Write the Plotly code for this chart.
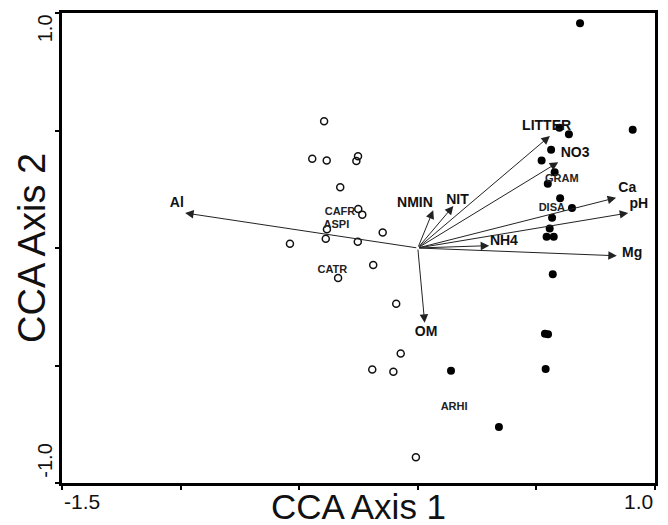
import plotly.graph_objects as go

# ---- data ----
site_open_x = [-0.395, -0.445, -0.384, -0.252, -0.259, -0.327, -0.251, -0.234, -0.383, -0.388,
               -0.539, -0.253, -0.148, -0.188, -0.336, -0.091, -0.072, -0.192, -0.103, -0.008]
site_open_y = [0.539, 0.380, 0.372, 0.390, 0.370, 0.259, 0.166, 0.142, 0.080, 0.039,
               0.018, 0.027, 0.066, -0.072, -0.128, -0.237, -0.449, -0.517, -0.527, -0.890]

site_filled_x = [0.684, 0.597, 0.637, 0.906, 0.562, 0.522, 0.577, 0.548, 0.600, 0.650,
                 0.566, 0.556, 0.543, 0.573, 0.569, 0.536, 0.549, 0.539, 0.140, 0.342]
site_filled_y = [0.956, 0.512, 0.484, 0.503, 0.418, 0.372, 0.322, 0.273, 0.212, 0.170,
                 0.129, 0.083, 0.048, 0.048, -0.112, -0.365, -0.367, -0.515, -0.522, -0.762]

env_names = ["Al", "NMIN", "NIT", "LITTER", "NO3", "Ca", "pH", "NH4", "Mg", "OM"]
env_tip_x = [-0.981, 0.065, 0.150, 0.557, 0.592, 0.836, 0.887, 0.301, 0.839, 0.029]
env_tip_y = [0.149, 0.161, 0.179, 0.477, 0.365, 0.214, 0.149, 0.010, -0.033, -0.318]
env_label_x = [-1.016, -0.012, 0.167, 0.543, 0.663, 0.883, 0.932, 0.363, 0.904, 0.035]
env_label_y = [0.188, 0.188, 0.203, 0.517, 0.404, 0.252, 0.186, 0.027, -0.023, -0.361]

species_names = ["CAFR", "ASPI", "CATR", "GRAM", "DISA", "ARHI"]
species_x = [-0.328, -0.343, -0.360, 0.607, 0.565, 0.153]
species_y = [0.153, 0.097, -0.093, 0.291, 0.170, -0.678]

x_tick_vals = [-1.5, -1.0, -0.5, 0.0, 0.5, 1.0]
y_tick_vals = [-1.0, -0.5, 0.0, 0.5, 1.0]
x_tick_labels = ["-1.5", "1.0"]
y_tick_labels = ["1.0", "-1.0"]
x_title = "CCA Axis 1"
y_title = "CCA Axis 2"

FONT = "Arial, Liberation Sans, Helvetica, sans-serif"

fig = go.Figure()

fig.add_trace(go.Scatter(
    x=site_open_x, y=site_open_y, mode="markers",
    marker=dict(symbol="circle-open", size=7, color="#111", line=dict(width=1.5, color="#111")),
    showlegend=False, hoverinfo="skip"))

fig.add_trace(go.Scatter(
    x=site_filled_x, y=site_filled_y, mode="markers",
    marker=dict(symbol="circle", size=8, color="#000"),
    showlegend=False, hoverinfo="skip"))

annotations = []
for tx, ty in zip(env_tip_x, env_tip_y):
    annotations.append(dict(
        x=tx, y=ty, ax=0, ay=0, xref="x", yref="y", axref="x", ayref="y",
        text="", showarrow=True, arrowhead=2, arrowsize=1.7, arrowwidth=1,
        arrowcolor="#222"))

fig.add_trace(go.Scatter(
    x=env_label_x, y=env_label_y, mode="text", text=env_names,
    textposition="middle center",
    textfont=dict(family=FONT, size=14, color="#111", weight="bold"),
    showlegend=False, hoverinfo="skip"))

fig.add_trace(go.Scatter(
    x=species_x, y=species_y, mode="text", text=species_names,
    textposition="middle center",
    textfont=dict(family=FONT, size=11, color="#222", weight="bold"),
    showlegend=False, hoverinfo="skip"))

# tick labels (aligned inward like the reference)
annotations.append(dict(x=x_tick_vals[0], y=-0.040, xref="x", yref="paper", text=x_tick_labels[0],
                        showarrow=False, xanchor="left", yanchor="middle",
                        font=dict(family=FONT, size=21, color="#111")))
annotations.append(dict(x=x_tick_vals[-1], y=-0.040, xref="x", yref="paper", text=x_tick_labels[1],
                        showarrow=False, xanchor="right", yanchor="middle",
                        font=dict(family=FONT, size=21, color="#111")))
annotations.append(dict(x=-0.0287, y=0.935, xref="paper", yref="y", text=y_tick_labels[0],
                        showarrow=False, textangle=-90, xanchor="center", yanchor="middle",
                        font=dict(family=FONT, size=20, color="#111")))
annotations.append(dict(x=-0.0287, y=-0.905, xref="paper", yref="y", text=y_tick_labels[1],
                        showarrow=False, textangle=-90, xanchor="center", yanchor="middle",
                        font=dict(family=FONT, size=20, color="#111")))
# axis titles
annotations.append(dict(x=0.5, y=-0.050, xref="paper", yref="paper", text=x_title,
                        showarrow=False, xanchor="center", yanchor="middle",
                        font=dict(family=FONT, size=35, color="#111")))
annotations.append(dict(x=-0.0506, y=0.5, xref="paper", yref="paper", text=y_title,
                        showarrow=False, textangle=-90, xanchor="center", yanchor="middle",
                        font=dict(family=FONT, size=38, color="#111")))

fig.update_layout(
    width=668, height=525,
    margin=dict(l=62, r=13, t=10, b=42),
    paper_bgcolor="white", plot_bgcolor="white",
    annotations=annotations,
    showlegend=False,
    font=dict(family=FONT),
)
fig.update_xaxes(range=[-1.5, 1.0], tickvals=x_tick_vals, showticklabels=False,
                 ticks="outside", ticklen=4, tickwidth=2, tickcolor="#000",
                 showline=True, linewidth=2.5, linecolor="#000", mirror=True,
                 showgrid=False, zeroline=False)
fig.update_yaxes(range=[-1.0, 1.0], tickvals=y_tick_vals, showticklabels=False,
                 ticks="outside", ticklen=4, tickwidth=2, tickcolor="#000",
                 showline=True, linewidth=2.5, linecolor="#000", mirror=True,
                 showgrid=False, zeroline=False)

fig.write_html(
    "out.html",
    config={"displayModeBar": False},
    post_script="document.body.style.margin='0';document.body.style.padding='0';"
                "document.body.style.overflow='hidden';",
)
